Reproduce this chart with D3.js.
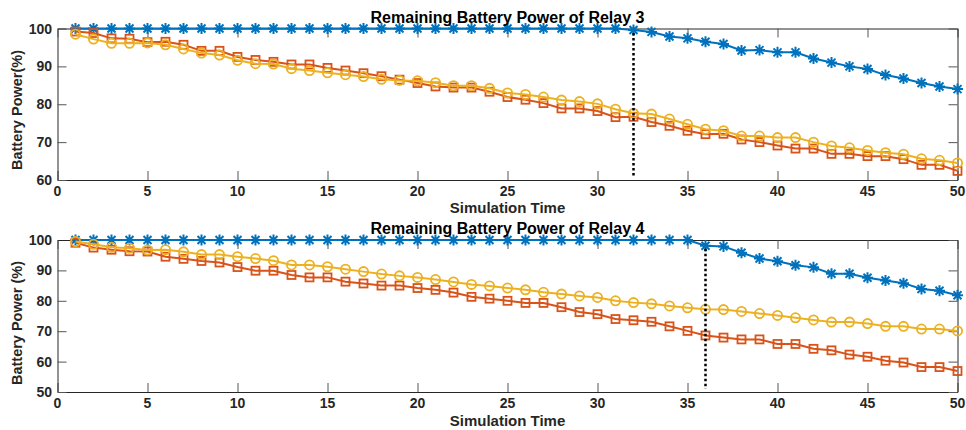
<!DOCTYPE html>
<html><head><meta charset="utf-8">
<script src="https://cdn.jsdelivr.net/npm/d3@7/dist/d3.min.js"></script>
<style>body{margin:0;background:#fff}svg{display:block}text{font-family:"Liberation Sans",Arial,Helvetica,sans-serif;font-weight:bold}</style>
</head><body><svg id="c" width="966" height="430"></svg>
<script>
const time = [1,2,3,4,5,6,7,8,9,10,11,12,13,14,15,16,17,18,19,20,21,22,23,24,25,26,27,28,29,30,31,32,33,34,35,36,37,38,39,40,41,42,43,44,45,46,47,48,49,50];
const xTicks = [0,5,10,15,20,25,30,35,40,45,50];

const relay3Blue = [100,100,100,100,100,100,100,100,100,100,100,100,100,100,100,100,100,100,100,100,100,100,100,100,100,100,100,100,100,100,100,99.6,
  99.1,97.9,97.4,96.5,95.9,94.2,94.3,93.7,93.7,92.1,91.0,90.0,89.3,87.7,86.8,85.6,84.7,84.0];
const relay3Red = [99.2,98.8,97.4,97.3,96.4,96.5,95.7,94.1,94.1,92.5,91.7,91.2,90.5,90.5,89.6,
  88.9,88.2,87.4,86.5,85.6,84.7,84.4,84.4,83.3,81.9,81.2,80.3,78.9,78.9,78.2,76.6,76.7,
  75.3,74.3,73.0,72.1,72.2,70.7,70.0,69.1,68.3,68.3,66.9,66.9,66.3,66.3,65.5,64.0,64.0,62.4];
const relay3Yellow = [98.5,97.2,96.1,96.1,96.2,95.7,94.6,93.5,93.0,91.6,90.7,90.6,89.4,88.9,88.3,
  87.8,87.3,86.6,86.3,86.2,85.7,84.9,84.9,84.2,83.0,82.6,81.9,81.1,80.7,80.1,78.7,77.6,
  77.4,76.1,74.7,73.4,73.0,71.6,71.6,71.2,71.2,70.0,69.0,68.5,67.8,67.2,66.8,65.6,65.2,64.5];
const relay3Ticks = [60,70,80,90,100];
const relay3Marker = 32;

const relay4Blue = [100,100,100,100,100,100,100,100,100,100,100,100,100,100,100,100,100,100,100,100,100,100,100,100,100,100,100,100,100,100,100,100,100,100,100,
  98.1,97.9,95.8,93.9,93.0,91.7,91.0,88.9,88.9,87.6,86.7,85.8,83.9,83.3,81.8];
const relay4Red = [99.1,97.5,96.8,96.3,96.2,94.5,93.8,93.1,92.6,91.1,89.9,89.9,88.5,87.7,87.7,
  86.3,85.7,85.0,85.0,84.2,83.6,82.7,81.3,80.7,80.0,79.3,79.3,77.9,76.3,75.6,74.0,73.6,
  73.1,71.6,70.1,68.6,67.9,67.3,67.3,65.8,65.8,64.2,63.7,62.3,61.6,60.3,59.7,58.2,58.2,56.9];
const relay4Yellow = [99.5,98.6,97.6,97.3,96.7,96.8,96.1,95.2,95.2,94.5,93.9,93.2,91.8,91.8,91.2,
  90.4,89.6,88.8,88.2,87.7,87.0,86.2,85.4,84.9,84.2,83.6,82.8,82.2,81.6,81.1,80.0,79.4,
  79.0,78.3,77.7,77.2,77.1,76.5,75.8,75.2,74.4,73.7,73.0,73.0,72.5,71.6,71.6,70.7,70.7,70.1];
const relay4Ticks = [50,60,70,80,90,100];
const relay4Marker = 36;

const svg = d3.select("#c");
const X0 = 57.5, X1 = 957.5;
const BLUE = "#0072BD", RED = "#D95319", YEL = "#EDB120", AX = "#262626";

function panel(cfg){
  const g = svg.append("g");
  const x = d3.scaleLinear().domain([0,50]).range([X0,X1]);
  const y = d3.scaleLinear().domain(cfg.yDomain).range([cfg.bottom,cfg.top]);
  const ax = d3.axisBottom(x).tickValues(xTicks).tickSizeInner(-9).tickSizeOuter(0).tickFormat("");
  const ga = g.append("g").attr("transform",`translate(0,${cfg.bottom})`).call(ax);
  const ay = d3.axisLeft(y).tickValues(cfg.ticks).tickSizeInner(-9).tickSizeOuter(0).tickFormat("");
  const gy = g.append("g").attr("transform",`translate(${X0},0)`).call(ay);
  const at = d3.axisTop(x).tickValues(xTicks).tickSizeInner(-9).tickSizeOuter(0).tickFormat("");
  const gt = g.append("g").attr("transform",`translate(0,${cfg.top})`).call(at);
  const ar = d3.axisRight(y).tickValues(cfg.ticks).tickSizeInner(-9).tickSizeOuter(0).tickFormat("");
  const gr = g.append("g").attr("transform",`translate(${X1},0)`).call(ar);
  [ga,gy,gt,gr].forEach(s=>{
    s.select(".domain").attr("stroke",AX).attr("stroke-width",1);
    s.selectAll(".tick line").attr("stroke","#555").attr("stroke-width",1);
    s.selectAll(".tick text").remove();
  });
  xTicks.forEach(v=>{
    g.append("text").attr("x",x(v)).attr("y",cfg.bottom+16).attr("text-anchor","middle")
      .attr("fill",AX).style("font-size","14px").text(v.toString());
  });
  cfg.ticks.forEach(v=>{
    g.append("text").attr("x",X0-5.5).attr("y",y(v)).attr("dy","0.36em").attr("text-anchor","end")
      .attr("fill",AX).style("font-size","14px").text(v.toString());
  });

  const series = [
    {v:cfg.blue, c:BLUE, m:"star"},
    {v:cfg.red, c:RED, m:"square"},
    {v:cfg.yellow, c:YEL, m:"circle"}
  ];
  const line = d3.line().x((d,i)=>x(time[i])).y(d=>y(d));
  series.forEach(s=>{
    g.append("path").attr("d",line(s.v)).attr("fill","none").attr("stroke",s.c).attr("stroke-width",2);
    const mg = g.append("g");
    s.v.forEach((d,i)=>{
      const cx = x(time[i]), cy = y(d);
      if(s.m==="circle"){
        mg.append("circle").attr("cx",cx).attr("cy",cy).attr("r",4.6).attr("fill","none").attr("stroke",s.c).attr("stroke-width",1.8);
      } else if(s.m==="square"){
        mg.append("rect").attr("x",cx-4).attr("y",cy-4).attr("width",8).attr("height",8).attr("fill","none").attr("stroke",s.c).attr("stroke-width",1.8);
      } else {
        const r=5.5, q=4;
        mg.append("path").attr("d",`M${cx-r},${cy}H${cx+r}M${cx},${cy-r}V${cy+r}M${cx-q},${cy-q}L${cx+q},${cy+q}M${cx-q},${cy+q}L${cx+q},${cy-q}`)
          .attr("stroke",s.c).attr("stroke-width",2).attr("fill","none");
      }
    });
  });
  const mi = time.indexOf(cfg.marker);
  g.append("line").attr("x1",x(cfg.marker)).attr("x2",x(cfg.marker))
    .attr("y1",y(cfg.blue[mi])+3).attr("y2",y(cfg.yDomain[0])-3)
    .attr("stroke","#000").attr("stroke-width",2.5).attr("stroke-dasharray","2.5,2.5");

  g.append("text").attr("x",(X0+X1)/2).attr("y",cfg.titleY).attr("text-anchor","middle")
    .attr("fill","#000").style("font-size","16px").text(cfg.title);
  g.append("text").attr("x",(X0+X1)/2).attr("y",cfg.xlabY).attr("text-anchor","middle")
    .attr("fill",AX).style("font-size","15px").text("Simulation Time");
  g.append("text").attr("transform",`translate(22,${cfg.ylabC}) rotate(-90)`).attr("text-anchor","middle")
    .attr("fill",AX).style("font-size","14.5px").text(cfg.ylab);
}

panel({yDomain:[60,100], top:28.5, bottom:180, ticks:relay3Ticks, blue:relay3Blue, red:relay3Red, yellow:relay3Yellow,
  marker:relay3Marker, title:"Remaining Battery Power of Relay 3", titleY:23, xlabY:213, ylab:"Battery Power(%)", ylabC:110});
panel({yDomain:[50,100], top:240, bottom:392, ticks:relay4Ticks, blue:relay4Blue, red:relay4Red, yellow:relay4Yellow,
  marker:relay4Marker, title:"Remaining Battery Power of Relay 4", titleY:233.5, xlabY:426, ylab:"Battery Power (%)", ylabC:323});
</script></body></html>
